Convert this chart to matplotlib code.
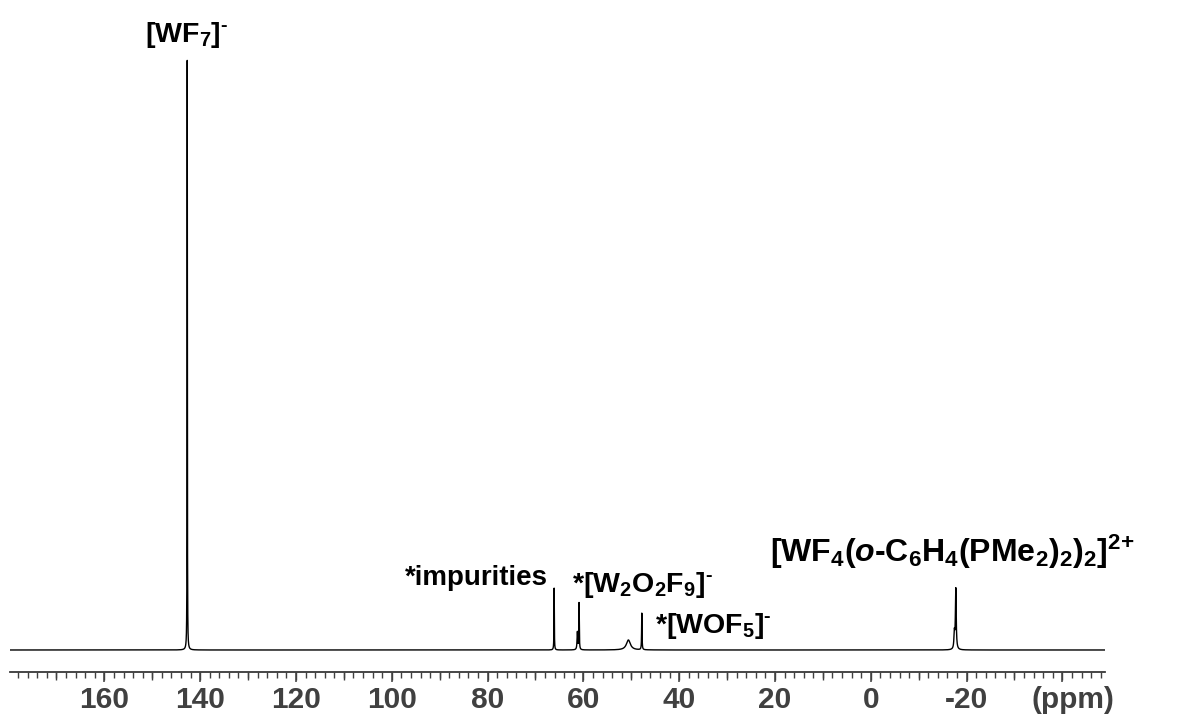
import numpy as np
import matplotlib
matplotlib.use('Agg')
import matplotlib.pyplot as plt
from matplotlib.ticker import FixedLocator, MultipleLocator

plt.rcParams['font.family'] = ['Liberation Sans', 'DejaVu Sans']
plt.rcParams['mathtext.fontset'] = 'custom'
plt.rcParams['mathtext.rm'] = 'Liberation Sans:bold'
plt.rcParams['mathtext.it'] = 'Liberation Sans:bold:italic'
plt.rcParams['mathtext.bf'] = 'Liberation Sans:bold'

# peaks: shift (ppm), height (WF7 = 100), half width (ppm)
peak_shift = [142.7, 66.1, 61.25, 60.9, 50.6, 47.8, -17.45, -17.75]
peak_height = [100.0, 10.5, 3.0, 7.9, 1.7, 6.2, 2.7, 10.3]
peak_hwhm = [0.03, 0.04, 0.08, 0.05, 0.5, 0.05, 0.1, 0.1]

# annotations: text, shift, height, alignment, size
label_text = [
	r'[WF$_7$]$^{\text{-}}$',
	'*impurities',
	r'*[W$_2$O$_2$F$_9$]$^{\text{-}}$',
	r'*[WOF$_5$]$^{\text{-}}$',
	r'[WF$_4$($\it{o}$-C$_6$H$_4$(PMe$_2$)$_2$)$_2$]$^{\text{2+}}$',
]
label_x = [142.8, 67.4, 62.4, 45.0, 21.0]
label_y = [103.1, 11.0, 9.8, 2.8, 14.9]
label_ha = ['center', 'right', 'left', 'left', 'left']
label_size = [20.5, 20.0, 20.5, 20.5, 23.0]

tick_pos = [160, 140, 120, 100, 80, 60, 40, 20, 0, -20, -40]
tick_text = ['160', '140', '120', '100', '80', '60', '40', '20', '0', '-20', '']
x_lo, x_hi = 179.7, -48.9

ppm = np.linspace(x_lo, x_hi, 46000)
spec = np.zeros_like(ppm)
for s, h, w in zip(peak_shift, peak_height, peak_hwhm):
	spec += h * w ** 2 / ((ppm - s) ** 2 + w ** 2)

grey = '#404040'
fig = plt.figure(figsize=(11.9, 7.2), dpi=100)
ax = fig.add_axes([10 / 1190, 48.3 / 720, 1095 / 1190, 671.7 / 720])
ax.plot(ppm, spec, color='black', lw=1.0)
ax.set_xlim(x_lo, x_hi)
ax.set_ylim(-3.68, 110.17)

for side in ['left', 'right', 'top']:
	ax.spines[side].set_visible(False)
ax.spines['bottom'].set_color(grey)
ax.spines['bottom'].set_linewidth(1.1)
ax.set_yticks([])

ax.xaxis.set_major_locator(FixedLocator(tick_pos))
ax.set_xticklabels(tick_text, fontweight='bold')
ax.xaxis.set_minor_locator(MultipleLocator(2))
ax.tick_params(axis='x', which='major', length=7.2, width=1.1, color=grey,
	labelsize=21.5, labelcolor=grey, pad=3)
ax.tick_params(axis='x', which='minor', length=4, width=1.0, color=grey)

# medium ticks every 10 ppm
sec = ax.secondary_xaxis('bottom')
sec.set_xticks(np.arange(-40, 180, 10))
sec.tick_params(length=5.8, width=1.0, color=grey, labelbottom=False)
sec.spines['bottom'].set_color(grey)
sec.spines['bottom'].set_linewidth(1.1)

ax.annotate('(ppm)', xy=(-42.2, 0), xycoords=ax.get_xaxis_transform(),
	xytext=(0, -10.2), textcoords='offset points', ha='center', va='top',
	fontsize=21.5, fontweight='bold', color=grey)

for t, x, y, ha, fs in zip(label_text, label_x, label_y, label_ha, label_size):
	ax.text(x, y, t, ha=ha, va='baseline', fontsize=fs, fontweight='bold',
		color='black', clip_on=False)

fig.savefig('out.png', dpi=100)
